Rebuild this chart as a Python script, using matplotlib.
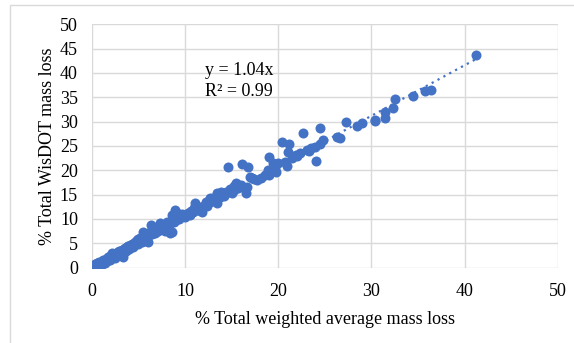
import matplotlib.pyplot as plt
from matplotlib.patches import Rectangle
import numpy as np

plt.rcParams["font.family"] = ["Liberation Serif", "DejaVu Serif"]

# % Total weighted average mass loss
x_vals = [
    0.1, 0.2, 0.3, 0.4, 0.5, 0.6, 0.7, 0.8, 0.9, 1.0, 1.1, 1.2, 1.3, 1.5, 1.6,
    1.8, 1.9, 2.0, 2.1, 2.3, 2.4, 2.6, 2.7, 2.9, 3.0, 3.2, 3.3, 3.4, 3.6, 3.7,
    3.9, 4.0, 4.1, 4.3, 4.4, 4.6, 4.8, 4.9, 5.1, 5.2, 5.4, 5.5, 5.6, 5.8, 5.9,
    6.0, 6.1, 6.3, 6.4, 6.5, 6.7, 6.8, 7.0, 7.1, 7.3, 7.4, 7.5, 7.7, 7.8, 8.0,
    8.2, 8.4, 8.6, 8.6, 8.7, 8.8, 8.9, 9.1, 9.2, 9.4, 9.6, 9.8, 10.0, 10.2, 10.3,
    10.5, 10.8, 11.0, 11.1, 11.3, 11.5, 11.8, 12.0, 12.1, 12.4, 12.5, 12.7, 12.7,
    13.0, 13.2, 13.4, 13.4, 13.7, 13.9, 14.2, 14.6, 15.0, 15.3, 15.5, 15.7, 16.1,
    16.5, 16.6, 16.8, 17.0, 17.4, 17.7, 18.2, 18.6, 19.0, 19.0, 19.4, 19.6, 19.8,
    20.0, 20.4, 20.7, 20.9, 21.0, 21.2, 21.5, 21.9, 22.3, 22.7, 23.1, 23.5, 23.9,
    24.1, 24.5, 24.5, 24.8, 26.3, 26.6, 27.3, 28.4, 29.0, 30.4, 30.4, 31.4, 31.4,
    32.3, 32.5, 34.5, 35.7, 36.4, 41.2,
    0.2, 0.3, 0.5, 0.6, 1.0, 1.4, 1.7, 2.2, 2.5, 2.8, 3.1, 3.5, 3.8, 4.2, 4.5,
    5.0, 5.3, 5.7, 6.2, 6.6, 6.9, 7.2, 7.6, 7.9, 8.1, 8.3, 9.0, 9.3, 9.7, 10.6,
    11.6, 12.2, 12.9, 13.6, 14.0, 14.4, 14.8, 15.2, 16.0,
    1.2, 2.6, 3.9, 5.6, 7.0, 9.5, 11.4, 12.8, 14.6, 17.2, 18.9, 22.0, 23.3,
]
# % Total WisDOT mass loss
y_vals = [
    0.2, 0.5, 0.3, 0.8, 0.4, 1.0, 0.6, 1.2, 0.9, 1.1, 0.8, 1.5, 1.2, 1.7, 1.3,
    1.9, 1.5, 2.3, 1.9, 2.6, 2.1, 3.0, 2.5, 3.4, 2.8, 3.7, 2.2, 3.2, 4.1, 3.5,
    4.5, 3.9, 4.2, 4.8, 4.3, 5.2, 5.6, 4.9, 5.5, 6.1, 5.3, 7.3, 6.4, 6.0, 6.9,
    5.2, 6.6, 7.5, 8.7, 6.9, 7.8, 7.2, 8.4, 7.6, 9.1, 8.0, 8.7, 8.2, 7.5, 8.9,
    8.5, 7.1, 10.8, 7.3, 10.2, 9.3, 11.8, 11.2, 10.2, 10.0, 10.8, 10.5, 10.4, 11.0, 11.2,
    10.7, 11.4, 12.2, 13.2, 11.8, 12.0, 11.4, 12.6, 12.8, 12.6, 13.2, 13.4, 14.3,
    14.3, 13.8, 15.3, 13.2, 14.5, 15.5, 14.8, 20.6, 15.3, 15.9, 17.4, 16.3, 21.3,
    15.3, 16.5, 20.6, 18.6, 18.2, 18.0, 18.4, 19.0, 19.0, 22.7, 21.4, 20.4, 19.6,
    21.4, 25.8, 21.7, 20.8, 23.7, 25.5, 22.5, 23.1, 23.6, 27.6, 24.1, 24.5, 24.7,
    21.9, 25.5, 28.6, 26.2, 26.8, 26.6, 29.9, 29.2, 29.7, 30.3, 30.1, 31.9, 30.7,
    32.8, 34.6, 35.2, 36.2, 36.5, 43.6,
    0.1, 0.7, 0.2, 0.6, 0.6, 1.0, 2.1, 2.9, 2.0, 3.1, 3.5, 3.8, 4.2, 4.6, 4.6,
    5.9, 5.8, 6.2, 7.0, 7.4, 7.9, 8.3, 8.6, 8.0, 9.4, 8.8, 9.8, 10.6, 11.0, 11.6,
    12.4, 13.5, 13.9, 15.0, 15.2, 15.6, 16.1, 16.7, 16.9,
    1.0, 2.4, 4.4, 5.9, 7.9, 10.3, 11.9, 13.6, 15.5, 18.4, 20.1, 22.9, 24.0,
]
slope = 1.04
eq_text = "y = 1.04x\nR² = 0.99"
ticks = [0, 5, 10, 15, 20, 25, 30, 35, 40, 45, 50]
xticks = [0, 10, 20, 30, 40, 50]

BLUE = "#4472C4"
GRID = "#d9d9d9"

fig = plt.figure(figsize=(5.74, 3.43), dpi=100)
ax = fig.add_axes([0.160, 0.220, 0.812, 0.709])

fig.patches.append(Rectangle((0.0174, -0.5), 2, 1.485, transform=fig.transFigure,
                             fill=False, edgecolor=GRID, linewidth=1.0))

ax.scatter(x_vals, y_vals, s=52, color=BLUE, linewidths=0, zorder=3)
xs = np.array([0, max(x_vals)])
ax.plot(xs, slope * xs, color=BLUE, linestyle=(0, (1, 2)), linewidth=1.6, zorder=2)

ax.text(12.1, 42.3, eq_text, fontsize=13, va="top", ha="left", linespacing=1.3)

ax.set_xlim(0, 50)
ax.set_ylim(0, 50)
ax.set_xticks(xticks)
ax.set_yticks(ticks)
ax.grid(True, color=GRID, linewidth=1.0)
ax.set_axisbelow(True)
for s in ax.spines.values():
    s.set_visible(False)
ax.tick_params(length=0, labelsize=13, pad=11)
ax.tick_params(axis="y", pad=10)

ax.set_xlabel("% Total weighted average mass loss", fontsize=13, labelpad=8)
ax.set_ylabel("% Total WisDOT mass loss", fontsize=13, labelpad=3)

fig.savefig("out.png", dpi=100)
